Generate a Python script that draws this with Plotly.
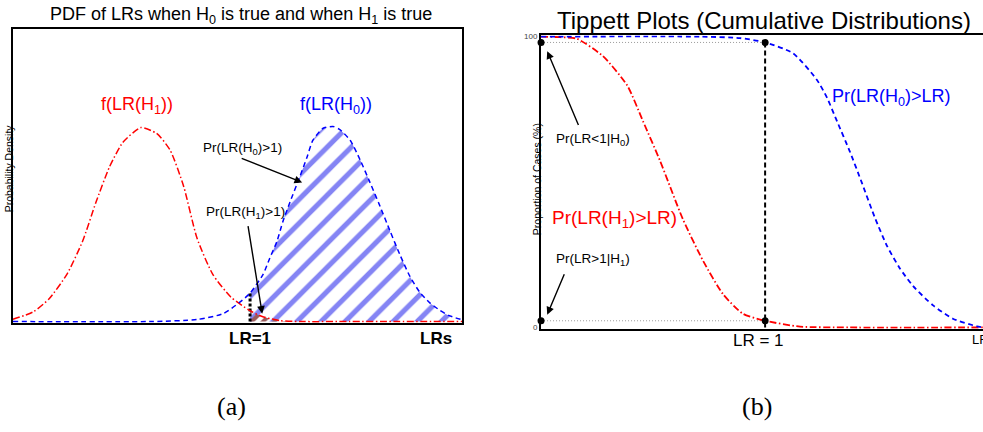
import plotly.graph_objects as go

# ---------------- Panel (a): PDFs of LRs ----------------
LR1_A = 52.8  # position of LR = 1 on panel (a) score axis

# f(LR(H1)) density (red)
pdf_h1_x = [0, 4.5, 8, 12, 15.5, 18.5, 21.5, 24.5, 28.5, 32, 35, 38, 41, 44.5, 48.5, 52.8, 55.5, 59.5, 64, 75, 86, 100]
pdf_h1_y = [0.008, 0.033, 0.077, 0.161, 0.274, 0.408, 0.528, 0.612, 0.662, 0.642, 0.585, 0.462, 0.284, 0.161,
            0.084, 0.037, 0.017, 0.003, 0, 0, 0, 0]

# f(LR(H0)) density (blue)
pdf_h0_x = [0, 30.5, 41.0, 46.8, 50.6, 52.8, 55.7, 57.2, 58.8, 60.1, 61.7, 63.9, 65.5, 66.8, 69.0, 71.3, 72.8,
            75.1, 77.3, 79.5, 81.7, 84.0, 86.2, 88.4, 90.6, 92.9, 95.1, 97.0, 100]
pdf_h0_y = [0, 0, 0.007, 0.027, 0.067, 0.097, 0.161, 0.217, 0.274, 0.341, 0.408, 0.495, 0.562, 0.619, 0.659,
            0.666, 0.655, 0.619, 0.552, 0.475, 0.395, 0.308, 0.227, 0.154, 0.100, 0.063, 0.038, 0.021, 0.006]

# ---------------- Panel (b): Tippett plot ----------------
LR1_B = 50.7      # position of LR = 1 on panel (b) axis
P_H0_LT1 = 98.0   # level of the upper dotted line (%)
P_H1_GT1 = 2.3    # level of the lower dotted line (%)

tip_h1_x = [0, 4.3, 8.1, 14.0, 19.5, 23.1, 26.9, 32.1, 36.7, 41.2, 45.7, 50.7, 58.6, 69.9, 100]
tip_h1_y = [100, 99.8, 99.3, 93.3, 83.2, 70.8, 57.4, 37.2, 22.8, 11.4, 4.7, 2.3, 0.3, 0, 0]

tip_h0_x = [0, 36.0, 45.0, 50.7, 57.0, 62.4, 64.7, 67.0, 69.9, 72.6, 75.6, 78.3, 81.2, 84.2, 88.7, 93.2, 98.6, 100]
tip_h0_y = [100, 100, 99.5, 98.0, 94.3, 85.2, 79.0, 70.8, 60.4, 49.7, 37.5, 28.0, 20.3, 14.2, 7.6, 3.0, 0.4, 0]

RED = "#ff0000"
BLUE = "#0000ff"
SANS = "Liberation Sans, Arial, sans-serif"

fig = go.Figure()

# hatched areas (x >= LR=1)
hx0 = [x for x in pdf_h0_x if x >= LR1_A]
hy0 = [y for x, y in zip(pdf_h0_x, pdf_h0_y) if x >= LR1_A]
hx1 = [x for x in pdf_h1_x if x >= LR1_A]
hy1 = [y for x, y in zip(pdf_h1_x, pdf_h1_y) if x >= LR1_A]

fig.add_trace(go.Scatter(x=hx0, y=hy0, mode="lines", line=dict(width=0, shape="spline", smoothing=0.6),
                         fill="tozeroy", fillcolor="rgba(0,0,0,0)",
                         fillpattern=dict(shape="/", size=17, solidity=0.3, fgcolor="#8484f4",
                                          bgcolor="rgba(0,0,0,0)", fgopacity=1),
                         xaxis="x", yaxis="y", hoverinfo="skip"))
fig.add_trace(go.Scatter(x=hx1, y=hy1, mode="lines", line=dict(width=0, shape="spline", smoothing=0.6),
                         fill="tozeroy", fillcolor="rgba(0,0,0,0)",
                         fillpattern=dict(shape="/", size=8, solidity=0.5, fgcolor="#9a5a5a",
                                          bgcolor="rgba(0,0,0,0)", fgopacity=1),
                         xaxis="x", yaxis="y", hoverinfo="skip"))

# LR = 1 dotted vertical on panel (a)
fig.add_trace(go.Scatter(x=[LR1_A, LR1_A], y=[0, pdf_h0_y[pdf_h0_x.index(LR1_A)]], mode="lines",
                         line=dict(color="black", width=3, dash="3px,2px"), xaxis="x", yaxis="y"))

# PDF curves
fig.add_trace(go.Scatter(x=pdf_h1_x, y=pdf_h1_y, mode="lines",
                         line=dict(color=RED, width=1.5, dash="7px,2.5px,1.5px,2.5px", shape="spline", smoothing=0.6),
                         xaxis="x", yaxis="y"))
fig.add_trace(go.Scatter(x=pdf_h0_x, y=pdf_h0_y, mode="lines",
                         line=dict(color=BLUE, width=1.5, dash="5px,3.5px", shape="spline", smoothing=0.6),
                         xaxis="x", yaxis="y"))

# Tippett: helper lines
fig.add_trace(go.Scatter(x=[0, LR1_B], y=[P_H0_LT1, P_H0_LT1], mode="lines",
                         line=dict(color="#9a9a9a", width=1, dash="1px,2px"), xaxis="x2", yaxis="y2"))
fig.add_trace(go.Scatter(x=[0, LR1_B], y=[P_H1_GT1, P_H1_GT1], mode="lines",
                         line=dict(color="#9a9a9a", width=1, dash="1px,2px"), xaxis="x2", yaxis="y2"))
fig.add_trace(go.Scatter(x=[LR1_B, LR1_B], y=[0, P_H0_LT1], mode="lines",
                         line=dict(color="black", width=2, dash="5px,3px"), xaxis="x2", yaxis="y2"))

# Tippett curves
fig.add_trace(go.Scatter(x=tip_h1_x, y=tip_h1_y, mode="lines",
                         line=dict(color=RED, width=1.8, dash="7px,2.5px,1.5px,2.5px", shape="spline", smoothing=0.6),
                         xaxis="x2", yaxis="y2"))
fig.add_trace(go.Scatter(x=tip_h0_x, y=tip_h0_y, mode="lines",
                         line=dict(color=BLUE, width=1.8, dash="5px,3.5px", shape="spline", smoothing=0.6),
                         xaxis="x2", yaxis="y2"))

# Tippett markers
fig.add_trace(go.Scatter(x=[0, LR1_B, 0, LR1_B], y=[P_H0_LT1, P_H0_LT1, P_H1_GT1, P_H1_GT1], mode="markers",
                         marker=dict(color="black", size=7), cliponaxis=False, xaxis="x2", yaxis="y2"))

ax_common = dict(showgrid=False, zeroline=False, showline=True, linecolor="black",
                 ticks="", layer="below traces", fixedrange=True)

fig.update_layout(
    width=983, height=432, margin=dict(l=0, r=0, t=0, b=0),
    paper_bgcolor="white", plot_bgcolor="white", showlegend=False,
    font=dict(family=SANS, color="black"),
    xaxis=dict(domain=[0.0132, 0.4700], range=[0, 100], mirror=True, linewidth=1.5,
               showticklabels=False, anchor="y", **ax_common),
    yaxis=dict(domain=[0.2477, 0.9398], range=[-0.004, 1.0], mirror=True, linewidth=1.5,
               showticklabels=False, anchor="x", **ax_common),
    xaxis2=dict(domain=[0.5504, 1.0], range=[0, 100], mirror=True, linewidth=2,
                showticklabels=False, anchor="y2", **ax_common),
    yaxis2=dict(domain=[0.2338, 0.9236], range=[-0.4, 100.4], mirror=False, linewidth=2,
                tickvals=[0, 100], ticktext=["0", "100"], tickfont=dict(size=8, color="#444"),
                anchor="x2", **ax_common),
)

ann = []
def txt(text, x, y, xref, yref, size, color="black", **kw):
    d = dict(text=text, x=x, y=y, xref=xref, yref=yref, showarrow=False,
             font=dict(size=size, color=color, family=kw.pop("family", SANS)),
             xanchor=kw.pop("xanchor", "center"), yanchor=kw.pop("yanchor", "middle"))
    d.update(kw)
    ann.append(d)

def arrow(xh, yh, xt, yt, xref, yref):
    ann.append(dict(text="", x=xh, y=yh, ax=xt, ay=yt, xref=xref, yref=yref, axref=xref, ayref=yref,
                    showarrow=True, arrowhead=2, arrowsize=1.1, arrowwidth=1.4, arrowcolor="black"))

# titles
txt("PDF of LRs when H<sub>0</sub> is true and when H<sub>1</sub> is true", 0.2452, 0.970, "paper", "paper", 18)
txt("Tippett Plots (Cumulative Distributions)", 0.7777, 0.959, "paper", "paper", 24)

# panel (a) labels
txt("f(LR(H<sub>1</sub>))", 27.7, 0.736, "x", "y", 18, RED)
txt("f(LR(H<sub>0</sub>))", 71.9, 0.736, "x", "y", 18, BLUE)
txt("Pr(LR(H<sub>0</sub>)>1)", 51.1, 0.590, "x", "y", 13.5)
txt("Pr(LR(H<sub>1</sub>)>1)", 51.7, 0.372, "x", "y", 13.5)
arrow(64.4, 0.475, 50.6, 0.559, "x", "y")
arrow(55.5, 0.027, 52.3, 0.331, "x", "y")
txt("<b>LR=1</b>", LR1_A, 0.2106, "x", "paper", 17)
txt("<b>LRs</b>", 94.2, 0.2106, "x", "paper", 17)
txt("Probability Density", 0.0092, 0.611, "paper", "paper", 10.5, textangle=-90)

# panel (b) labels
txt("Pr(LR<1|H<sub>0</sub>)", 11.8, 64.8, "x2", "y2", 13.5)
txt("Pr(LR>1|H<sub>1</sub>)", 11.8, 23.5, "x2", "y2", 13.5)
arrow(1.4, 95.0, 8.6, 69.1, "x2", "y2")
arrow(1.4, 4.4, 5.4, 18.8, "x2", "y2")
txt("Pr(LR(H<sub>1</sub>)>LR)", 16.7, 37.3, "x2", "y2", 19, RED)
txt("Pr(LR(H<sub>0</sub>)>LR)", 79.2, 79.2, "x2", "y2", 18, BLUE)
txt("LR = 1", 49.1, 0.206, "x2", "paper", 17)
txt("LR", 97.1, 0.208, "x2", "paper", 13, xanchor="left")
txt("Proportion of Cases (%)", 0.5463, 0.5856, "paper", "paper", 10.5, textangle=-90)

# captions
txt("(a)", 0.235, 0.051, "paper", "paper", 26, family="Liberation Serif, DejaVu Serif, serif")
txt("(b)", 0.770, 0.051, "paper", "paper", 26, family="Liberation Serif, DejaVu Serif, serif")

fig.update_layout(annotations=ann)
fig.write_html("out.html", config={"displayModeBar": False, "staticPlot": False},
               post_script="document.body.style.margin='0px';document.body.style.overflow='hidden';")
